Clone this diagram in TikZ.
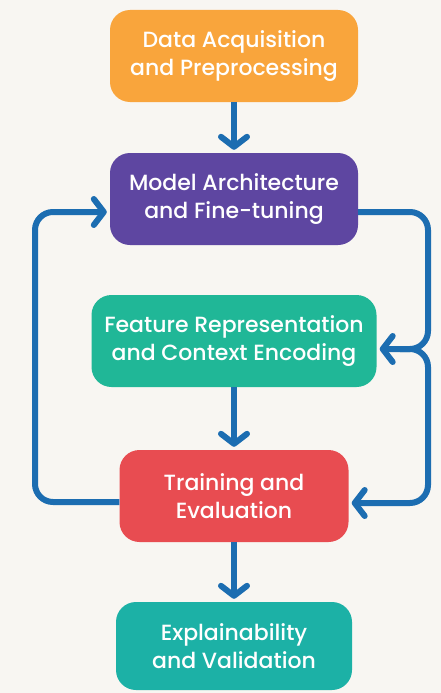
\documentclass[tikz,border=0pt]{standalone}
\usepackage{fontspec}
\setmainfont{Poppins}[UprightFont=* Medium]
\usetikzlibrary{arrows.meta,positioning}
\definecolor{bgpaper}{HTML}{F8F6F2}
\definecolor{linkblue}{HTML}{1C6DB1}
\definecolor{acqorange}{HTML}{F9A53C}
\definecolor{archpurple}{HTML}{5E46A1}
\definecolor{featgreen}{HTML}{20B797}
\definecolor{trainred}{HTML}{E84C51}
\definecolor{expteal}{HTML}{1CB1A6}

\begin{document}
\begin{tikzpicture}[x=1pt,y=-1pt,font=\fontsize{22}{28}\selectfont,box/.style={rounded corners=20pt,align=center,text=white,minimum height=92pt,inner sep=0pt},arr/.style={draw=linkblue,line width=6pt,-{Straight Barb[length=10pt,width=26pt,line cap=round,line join=round]},shorten >=3pt}]
\fill[bgpaper] (0,0) rectangle (441,693);
\node[box,fill=acqorange,minimum width=248pt] (acq) at (234,56) {Data Acquisition\\and Preprocessing};
\node[box,fill=archpurple,minimum width=248pt] (arch) at (234,199) {Model Architecture\\and Fine-tuning};
\node[box,fill=featgreen,minimum width=285pt] (feat) at (234,341) {Feature Representation\\and Context Encoding};
\node[box,fill=trainred,minimum width=229pt] (train) at (234,496) {Training and\\Evaluation};
\node[box,fill=expteal,minimum width=236pt,minimum height=88pt] (expl) at (234,646) {Explainability\\and Validation};
\coordinate (split) at (400,349);
\draw[arr] (acq) -- (arch);
\draw[arr] (feat) -- (train);
\draw[arr] (train) -- (expl);
% loop back on the right
\draw[arr,rounded corners=18pt] ([yshift=-13pt]arch.east) -- (428,212) -- (428,349) -- ([yshift=-8pt]feat.east);
\draw[arr,rounded corners=18pt] (split) -- (428,349) -- (428,503) -- ([yshift=-7pt]train.east);
% loop back on the left
\draw[arr,rounded corners=18pt] ([yshift=-6pt]train.west) -- (35,502) -- (35,212) -- ([yshift=-13pt]arch.west);
\end{tikzpicture}
\end{document}
